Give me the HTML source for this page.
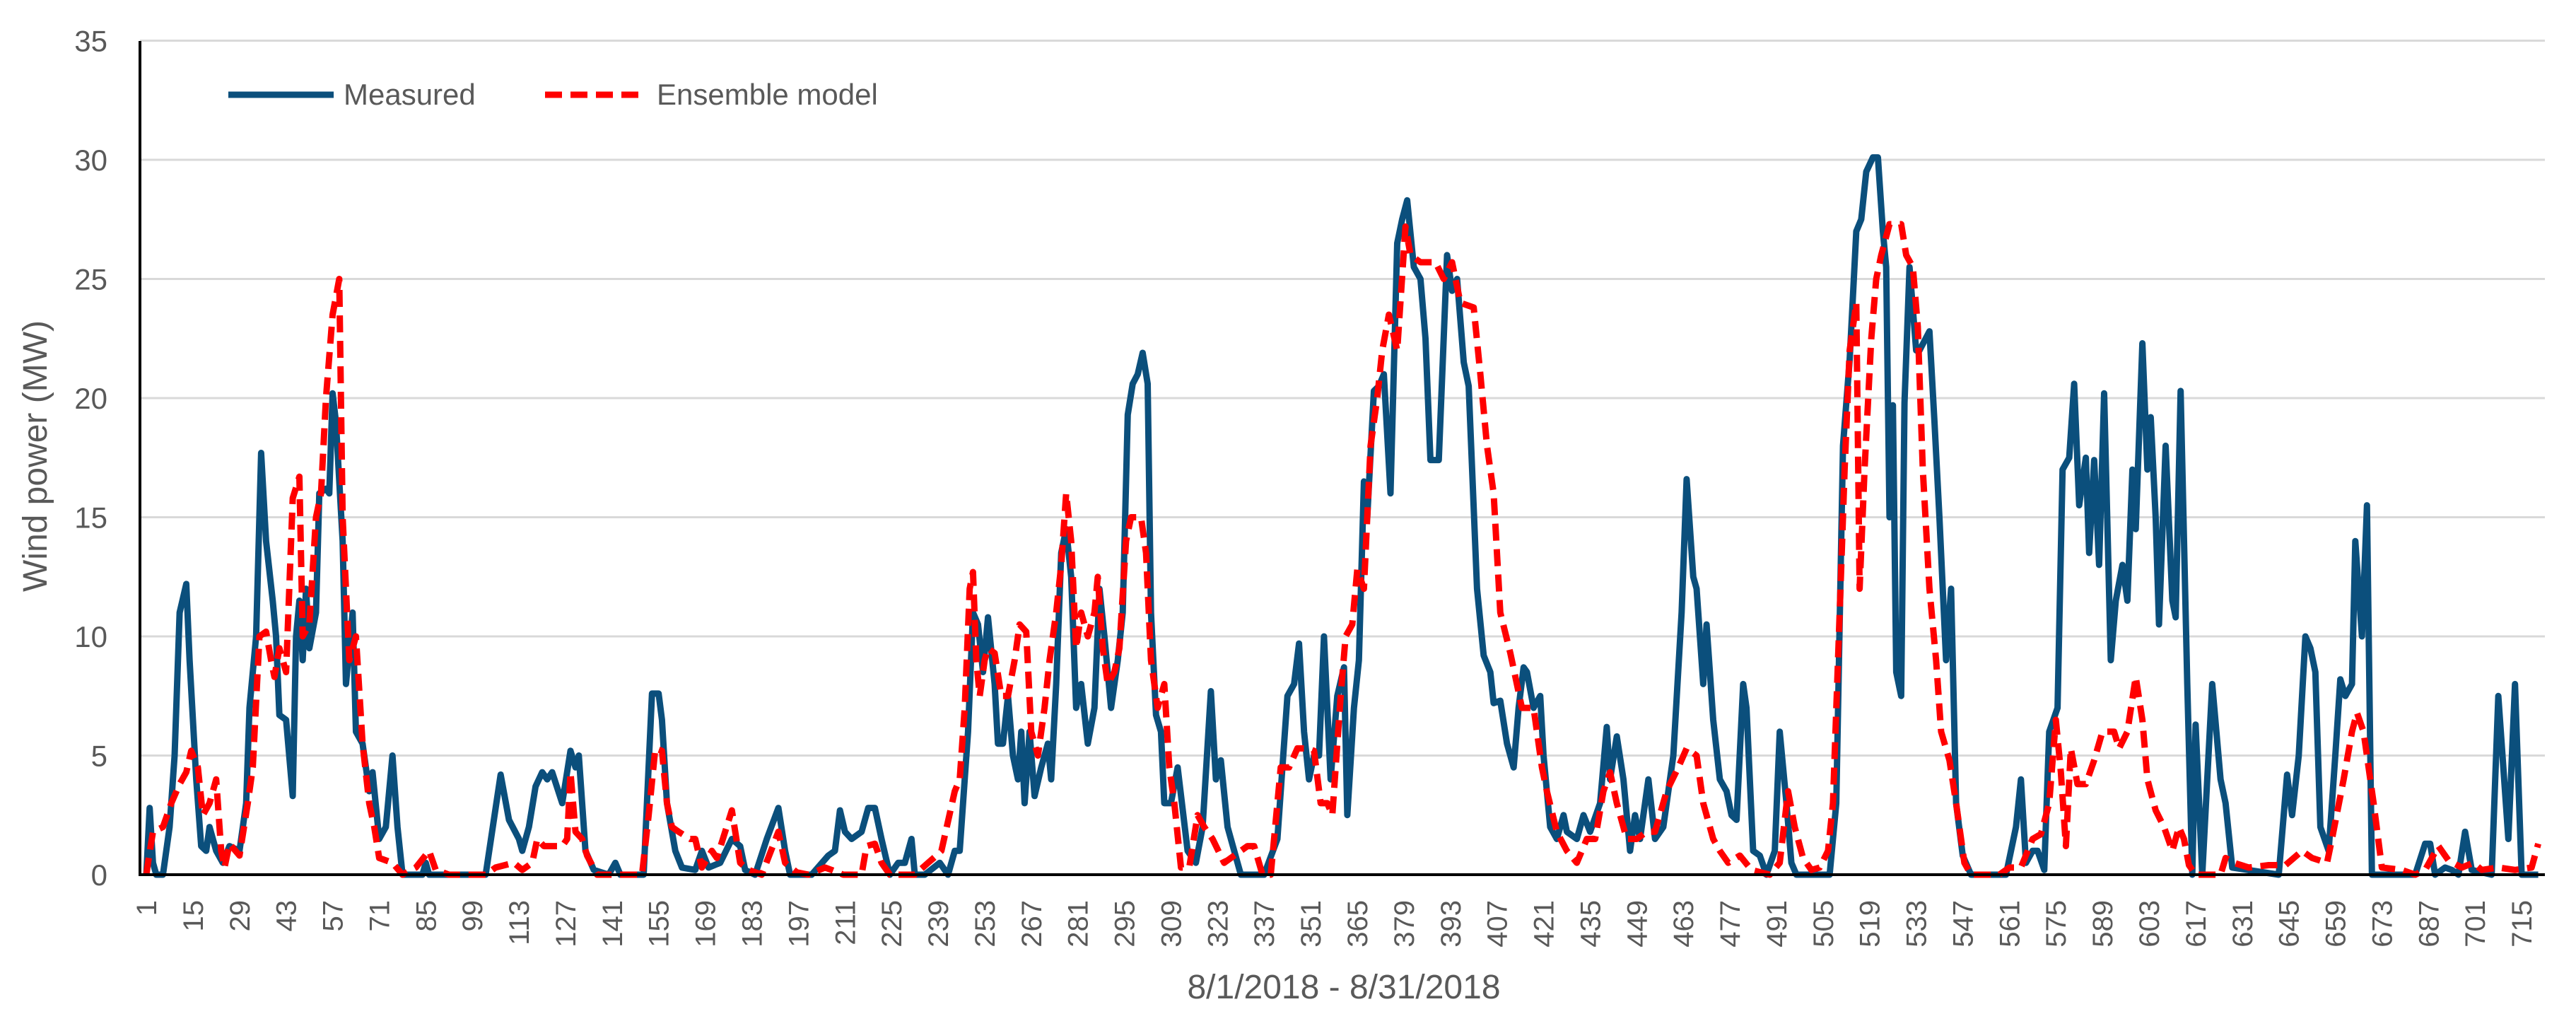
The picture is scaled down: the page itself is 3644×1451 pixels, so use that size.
<!DOCTYPE html>
<html><head><meta charset="utf-8">
<style>
html,body{margin:0;padding:0;background:#fff;}
svg{display:block;font-family:"Liberation Sans",sans-serif;}
</style></head>
<body>
<svg id="chart" width="3644" height="1451" viewBox="0 0 3644 1451" xmlns="http://www.w3.org/2000/svg">
<g id="grid"></g>
<g id="ylabels"></g>
<g id="xlabels"></g>
<g id="series"></g>
<line x1="198" y1="58" x2="198" y2="1239" stroke="#000" stroke-width="4"/>
<line x1="196" y1="1237" x2="3600" y2="1237" stroke="#000" stroke-width="4"/>
<text transform="translate(66,645) rotate(-90)" text-anchor="middle" font-size="48" fill="#595959">Wind power (MW)</text>
<text x="1901" y="1412" text-anchor="middle" font-size="48" fill="#595959">8/1/2018 - 8/31/2018</text>
<g>
<g>
<line x1="323" y1="134" x2="472" y2="134" stroke="#0b4f7c" stroke-width="9"/>
<text x="486" y="148" font-size="42" fill="#595959">Measured</text>
</g>
<g>
<line x1="771" y1="134" x2="914" y2="134" stroke="#ff0000" stroke-width="9" stroke-dasharray="24,12"/>
<text x="929" y="148" font-size="42" fill="#595959">Ensemble model</text>
</g>
</g>
</svg>
<script>
const yTicks=[0,5,10,15,20,25,30,35];
const xTickLabels=[1,15,29,43,57,71,85,99,113,127,141,155,169,183,197,211,225,239,253,267,281,295,309,323,337,351,365,379,393,407,421,435,449,463,477,491,505,519,533,547,561,575,589,603,617,631,645,659,673,687,701,715];
const measuredHour=[1,2,3,4,6,8,9.5,11,13,14,16,17.5,19,20,22,24,26,29,31,32,34,35.5,37,39,40,41,43,45,46,47,48,49,50,52,53,55,56,57,58,60,61,63,64,66,68,69,71,73,75,76.5,78,84,85,86,103,107.5,110,113,114,116,118,120,121.5,123,126,128.5,130,131,133,135.5,140,142,143.5,150.5,153,155,156,157.5,160,162,166,168,170,173.5,177,179.5,181,184,187.5,191,193,194.5,201,206,208,209.5,211,213,216,218,220,222,224.5,227,229,231,232,235,239.5,242,244,245.5,248,249.5,251,252.5,254,256,257,258.5,260,261.5,263,264,265,266.5,268,270,272,273,274.5,276,277.5,279,280.5,282,284,286,287.5,289,291,293,294.5,296,297.5,299,300.5,302,303,304.5,306,307,309,311,314,316.5,318.5,321,322.5,324,326,328,330,337,341,344,346,347.5,349,350.5,352,353.5,355,357,359,361,362,364,365.5,367,368,370,371.5,373,375,377,378.5,380,382,384,385.5,387,389.5,392,393.5,395,397,398.5,401,403,405,406,408,410,412,413.5,415,416,418,420,421,423,425,427,428,431,433,435,438,440,441,443,445,447,448.5,450,452.5,454.5,457,460,462.5,464,466,467,469,470,472,474,476,477.5,479,481,482,484,486,488,490.5,492,494,495.5,497,507,509,511,513,515,516.5,518,520,521.5,523,524,525,526,527,528.5,529.5,531,533,534,537,538.5,540,542,543.5,545,547,549.5,560,563,564.5,566,568,569.5,571.5,573,575.5,577,579,580.5,582,584,585,586.5,588,589.5,591.5,593,595,596.5,598,599,601,602.5,603.5,605,606,608,610,611,612.5,614.5,616,617,619,622,624.5,626,628,642,644.5,646,648,650,651.5,653,654.5,657,659,660.5,662,664,665,667,668.5,670,683,686,687.5,689,692,694,696,698,700,706,708,711,713,715,720];
const measuredMW=[0,2.8,0.5,0,0,2,5,11,12.2,9,4,1.2,1,2,1,0.5,1.2,1,3,7,10,17.7,14,11.5,10,6.7,6.5,3.3,10,11.5,9,12,9.5,11,16,16.2,16,20.2,19,14,8,11,6,5.5,3.5,4.3,1.5,2,5,2,0,0,0.5,0,0,4.2,2.3,1.5,1,2,3.7,4.3,4,4.3,3,5.2,4.5,5,1,0.2,0,0.5,0,0,7.6,7.6,6.5,3,1,0.3,0.2,1,0.3,0.5,1.5,1.2,0.2,0,1.5,2.8,1,0,0,0.8,1,2.7,1.8,1.5,1.8,2.8,2.8,1.5,0,0.5,0.5,1.5,0,0,0.5,0,1,1,6,11,10.5,8.5,10.8,8,5.5,5.5,7.5,5,4,6,3,6,3.3,4.5,5.5,4,8,13.5,14.5,12.5,7,8,5.5,7,12,10,7,9,11,19.3,20.6,21,21.9,20.6,11,6.7,6,3,3,4.5,1,0.5,2,7.7,4,4.8,2,1,0,0,1.5,7.5,8,9.7,6,4,5,5,10,4,7.5,8.7,2.5,7,9,16.5,15,20.3,20.5,21,16,26.5,27.5,28.3,25.5,25,22.5,17.4,17.4,26,24.5,25,21.5,20.5,12,9.2,8.5,7.2,7.3,5.5,4.5,7,8.7,8.5,7,7.5,5,2,1.5,2.5,1.8,1.5,2.5,1.8,3,6.2,4,5.8,4,1,2.5,1.5,4,1.5,2,5,11,16.6,12.5,12,8,10.5,6.5,4,3.5,2.5,2.3,8,7,1,0.8,0,1,6,3,0.5,0,0,3,18,21.6,27,27.5,29.5,30.1,30.1,27,25.5,15,19.7,8.5,7.5,19.8,25.5,22,22,22.8,19,15,9,12,3,0.8,0,0,2,4,0.5,1,1,0.2,6,7,17,17.5,20.6,15.5,17.5,13.5,17.4,13,20.2,9,11.5,13,11.5,17,14.5,22.3,17,19.2,15,10.5,18,11.5,10.8,20.3,8,0,6.3,0,8,4,3,0.3,0,4.2,2.5,5,10,9.5,8.5,2,1,5,8.2,7.5,8,14,10,15.5,0,0,1.3,1.3,0,0.3,0.2,0,1.8,0.2,0,7.5,1.5,8,0,0];
const modelHour=[1,1.5,3,6,8.5,11,13,14.5,16.5,18,20,22,23.5,24.5,26,29,31.5,33,35,37,38.5,39.5,41,43,45,47,48,50,52,53.5,55,57,59,60,62,64,66,68,69.5,71,75,78,82,86,88,92,103,106,111.5,114,117,118.5,120.5,126,127.5,128.5,130,132,133.5,136.5,150,152,154,156,157.5,159,161,164.5,166,168,171,172.5,177,179.5,182,186,191,193,196.5,200,205,207,210.5,216,217.5,220,222,224.5,226,232,236,238.5,240,244,245.5,247,248.5,249.5,250.5,251.5,253,254,256,258,260,262,263.5,265.5,267,269,271,272.5,274.5,276,277.5,279,280.5,282,284,286,287,288.5,290,292,293.5,295.5,297,300,301.5,303,305,307,308.5,310,312,314.5,317,319,321.5,325,328,332,334,336.5,339,342,344.5,347,350,352,354,356,357.5,360,361.5,363.5,365,367,369,371,372.5,374.5,377,379.5,381,384,386.5,388.5,391,393.5,396,400,402,404,406,408,411,414.5,418,420.5,422,425,428,431,434,436.5,439,441,443,446,449,452,454.5,458,461.5,464,467,469,472,474,476.5,480,483.5,489,492,494.5,496.5,499,501.5,504,506.5,508,510,511.5,513,515,516,517.5,519.5,521,522.5,525,528.5,530,532,533.5,535,537,539,540.5,543,545,547.5,549.5,558,561,564.5,568,570.5,573,575,576.5,578,579.5,581.5,584,586.5,589,592.5,594,596.5,599,601,602.5,605,607.5,610,612,613.5,615,617,624.5,626,628.5,633,639,644,649,652,656.5,658,661.5,664,665.5,667.5,670.5,673,679,683,686,690,693,697,700.5,703,708,713,718,720];
const modelMW=[0,0.5,1.8,2,3,3.8,4.3,5.2,4.5,2.5,3,4,1,0.3,1.3,0.8,3,4.5,10,10.2,9,8.3,9.5,8.5,15.8,16.7,10,10.5,15,16,20,23.5,25,15,9,10,5.5,3,2,0.7,0.5,0,0.3,1,0.2,0,0,0.3,0.5,0.2,0.5,1.5,1.2,1.2,1.5,4.3,1.8,1.5,0.8,0,0,2.5,5.3,5.2,3,2,1.8,1.5,1.5,0.3,1,0.7,2.7,0.5,0.2,0,1.8,0.5,0.1,0,0.3,0.2,0,0,1.2,1.3,0.5,0,0,0,0.5,0.8,1,3.5,4,7,12,12.7,9,7.5,9,9.5,9.3,7.5,7.5,9,10.5,10.2,6,5,7,9,11,13,16,14,9.5,11,10,11,12.5,9.5,8,8.5,9.5,14,15,15,13.5,9,7,8,4.5,3,0.3,0.3,2.5,2,1.5,0.5,0.8,1.2,1.2,0,0,4.5,4.5,5.3,5.3,5.2,3,3,2.5,7.5,10,10.5,12.8,12,18,20,22,23.5,22,27.2,26,25.7,25.7,25.7,25,25.7,24,23.8,21,18,16,11,9.3,7,7,4.5,3.5,1.8,1,0.5,1.5,1.5,3.5,4.3,3,1.5,1.5,1.8,1.8,3.5,4.5,5.3,5,3,1.5,1,0.5,0.8,0.2,0,0.5,3.5,2,0.7,0.2,0.3,1,3,11,17,22,24,12,17,22.5,25,26,27.3,27.3,26,25.5,23,17,12,9,6,4.8,3,0.5,0,0,0.3,0.3,1.5,1.7,3,6.5,4.3,1.2,5.3,3.8,3.8,4.8,6,6,5.3,6,8.3,6.5,4,2.7,2,1,2,1.5,0.4,0,0,0.7,0.5,0.3,0.4,0.4,1,0.7,0.5,1.5,4,6,6.8,6,3,0.3,0.2,0,0.2,1.2,0.6,0.3,0.5,0.2,0.3,0.2,0.3,1.3];

const NS='http://www.w3.org/2000/svg';
const X0=207, XSTEP=4.706, Y0=1237, YSTEP=33.7;
function xs(h){return X0+(h-1)*XSTEP;}
function ys(v){return Y0-v*YSTEP;}
const grid=document.getElementById('grid');
const yl=document.getElementById('ylabels');
yTicks.forEach(function(t){
  if(t>0){
    const l=document.createElementNS(NS,'line');
    
    
    l.setAttribute('x1',198);l.setAttribute('x2',3600);
    l.setAttribute('y1',ys(t));l.setAttribute('y2',ys(t));
    l.setAttribute('stroke','#d9d9d9');l.setAttribute('stroke-width','3');
    grid.appendChild(l);
  }
  const tx=document.createElementNS(NS,'text');
  
  
  tx.setAttribute('x',152);tx.setAttribute('y',ys(t)+15);
  tx.setAttribute('text-anchor','end');tx.setAttribute('font-size','42');tx.setAttribute('fill','#595959');
  tx.textContent=t;
  yl.appendChild(tx);
});
const xl=document.getElementById('xlabels');
xTickLabels.forEach(function(t){
  const tx=document.createElementNS(NS,'text');
  
  
  const cx=xs(t)+14, cy=1273;
  tx.setAttribute('transform','translate('+cx+','+cy+') rotate(-90)');
  tx.setAttribute('text-anchor','end');tx.setAttribute('font-size','40');tx.setAttribute('fill','#595959');
  tx.textContent=t;
  xl.appendChild(tx);
});
function pts(hs,vs){return hs.map(function(h,i){return xs(h).toFixed(1)+','+ys(vs[i]).toFixed(1);}).join(' ');}
const ser=document.getElementById('series');
const m=document.createElementNS(NS,'polyline');


m.setAttribute('points',pts(measuredHour,measuredMW));
m.setAttribute('fill','none');m.setAttribute('stroke','#0b4f7c');m.setAttribute('stroke-width','9');m.setAttribute('stroke-linejoin','round');
ser.appendChild(m);
const e=document.createElementNS(NS,'polyline');


e.setAttribute('points',pts(modelHour,modelMW));
e.setAttribute('fill','none');e.setAttribute('stroke','#ff0000');e.setAttribute('stroke-width','9');e.setAttribute('stroke-dasharray','24,12');e.setAttribute('stroke-linejoin','round');
ser.appendChild(e);
</script>
</body></html>
